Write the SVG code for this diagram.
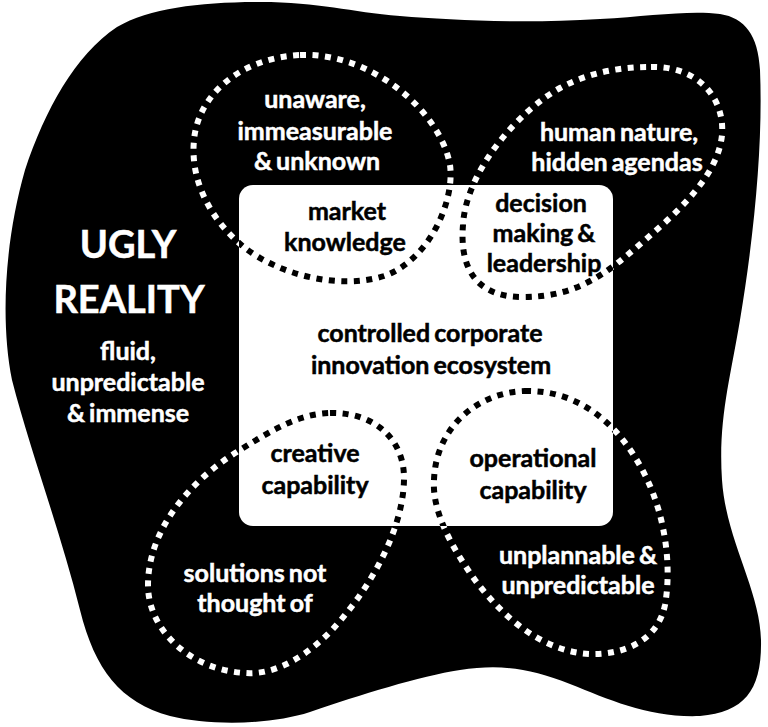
<svg xmlns="http://www.w3.org/2000/svg" xmlns:xlink="http://www.w3.org/1999/xlink" width="768" height="727" viewBox="0 0 768 727">
<style>
.t{font-family:Lato,"Open Sans","Liberation Sans",sans-serif;font-weight:700;font-size:25px;text-anchor:middle;word-spacing:-2px;stroke-width:0.5px}
.w{fill:#fff;stroke:#fff}
.k{fill:#000;stroke:#000}
.big{font-size:38px;word-spacing:0}
.loop{fill:none;stroke-width:6;stroke-dasharray:6 6.5}
.lw{stroke:#fff}
.lk{stroke:#000}
</style>
<defs>
<clipPath id="rc"><rect x="239" y="185" width="374" height="341" rx="14"/></clipPath>
<path id="p1" d="M 300,55 C 370,52 440,110 450,165 C 455,200 430,260 384,276 C 340,290 280,275 245,248 C 210,220 190,180 194,140 C 198,95 240,58 300,55 Z"/>
<path id="p2" d="M 651,67 C 700,66 725,100 722,135 C 718,175 680,210 645,240 C 610,270 580,298 520,297 C 470,296 460,260 463,225 C 466,170 520,110 560,88 C 590,72 620,67 651,67 Z"/>
<path id="p3" d="M 330,413 C 375,412 405,440 404,480 C 403,530 370,590 330,632 C 300,662 270,675 245,673 C 190,670 148,630 148,585 C 148,530 190,480 240,450 C 275,428 300,414 330,413 Z"/>
<path id="p4" d="M 525,391 C 580,390 620,425 645,475 C 665,515 672,565 665,605 C 658,640 625,655 590,654 C 545,652 505,620 475,580 C 450,545 432,510 434,480 C 436,425 480,392 525,391 Z"/>
</defs>
<rect width="768" height="727" fill="#fff"/>
<g id="ugly-reality">
<path fill="#000" d="M 117,27 C 150,8 200,2 260,2 C 320,2 350,12 400,16 C 450,20 520,24 600,19 C 650,16 690,10 720,14 C 745,18 758,35 760,70 C 763,140 755,230 740,320 C 730,380 718,420 722,480 C 726,540 760,590 761,640 C 762,690 745,712 700,716 C 650,718 610,700 570,684 C 530,668 500,664 460,670 C 420,676 360,695 310,712 C 270,725 210,726 170,716 C 120,702 95,670 80,610 C 60,530 30,450 12,380 C 0,320 5,240 25,170 C 45,110 75,55 117,27 Z"/>
<text class="t w big" x="128" y="258">UGLY</text>
<text class="t w big" x="129" y="313">REALITY</text>
<text class="t w" x="128" y="360">fluid,</text>
<text class="t w" x="128" y="391">unpredictable</text>
<text class="t w" x="128" y="422">&amp; immense</text>
</g>
<g id="ecosystem">
<rect x="239" y="185" width="374" height="341" rx="14" fill="#fff"/>
<text class="t k" x="430" y="342">controlled corporate</text>
<text class="t k" x="431" y="374">innovation ecosystem</text>
</g>
<g id="connectors"></g>
<g id="market-knowledge">
<use xlink:href="#p1" class="loop lw"/>
<g clip-path="url(#rc)"><use xlink:href="#p1" class="loop lk"/></g>
<text class="t w" x="315" y="108">unaware,</text>
<text class="t w" x="315" y="140">immeasurable</text>
<text class="t w" x="317" y="170">&amp; unknown</text>
<text class="t k" x="347" y="220">market</text>
<text class="t k" x="345" y="251">knowledge</text>
</g>
<g id="decision-making">
<use xlink:href="#p2" class="loop lw"/>
<g clip-path="url(#rc)"><use xlink:href="#p2" class="loop lk"/></g>
<text class="t w" x="619" y="141">human nature,</text>
<text class="t w" x="617" y="171">hidden agendas</text>
<text class="t k" x="541" y="212">decision</text>
<text class="t k" x="544" y="242">making &amp;</text>
<text class="t k" x="544" y="272">leadership</text>
</g>
<g id="creative-capability">
<use xlink:href="#p3" class="loop lw"/>
<g clip-path="url(#rc)"><use xlink:href="#p3" class="loop lk"/></g>
<text class="t k" x="315" y="462">creative</text>
<text class="t k" x="315" y="494">capability</text>
<text class="t w" x="255" y="582">solutions not</text>
<text class="t w" x="255" y="612">thought of</text>
</g>
<g id="operational-capability">
<use xlink:href="#p4" class="loop lw"/>
<g clip-path="url(#rc)"><use xlink:href="#p4" class="loop lk"/></g>
<text class="t k" x="533" y="467">operational</text>
<text class="t k" x="533" y="499">capability</text>
<text class="t w" x="578" y="564">unplannable &amp;</text>
<text class="t w" x="578" y="594">unpredictable</text>
</g>
</svg>
